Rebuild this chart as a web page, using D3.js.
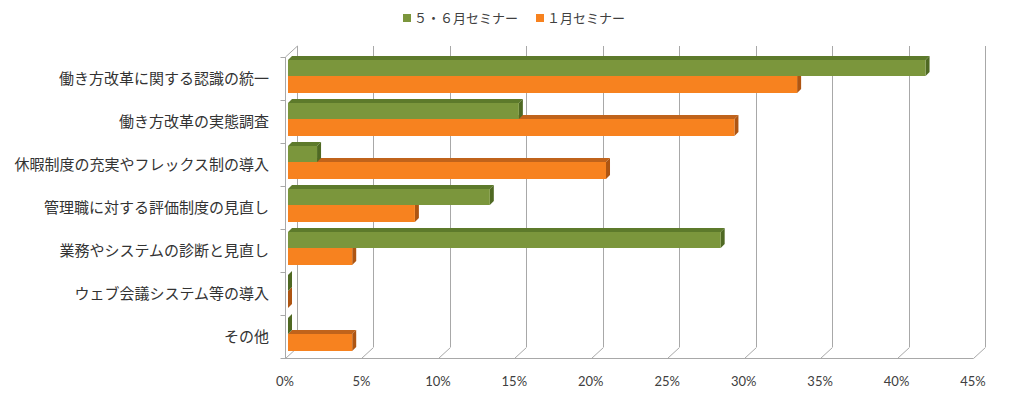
<!DOCTYPE html>
<meta charset="utf-8">
<html>
  <head>
    <title>seminar</title>
    <script src="https://d3js.org/d3.v7.min.js"></script>
    <style>
      body { margin: 0; background: #fff; }
    </style>
  </head>
  <body>
    <div id="chart"></div>
    <script type="text/javascript">
        /* data */
        var categories = ["働き方改革に関する認識の統一", "働き方改革の実態調査", "休暇制度の充実やフレックス制の導入",
                          "管理職に対する評価制度の見直し", "業務やシステムの診断と見直し", "ウェブ会議システム等の導入", "その他"];
        var series_names = ["５・６月セミナー", "１月セミナー"];
        var may_june = [0.417, 0.151, 0.019, 0.132, 0.283, 0, 0];
        var january = [0.333, 0.292, 0.208, 0.083, 0.042, 0, 0.042];
        var ticks = [0, 0.05, 0.10, 0.15, 0.20, 0.25, 0.30, 0.35, 0.40, 0.45];

        /* layout */
        var total_width = 1024, total_height = 397,
            depth = {dx: 12, dy: -11},
            bar_depth = 4,
            colors = [{front: "#7b963c", top: "#5d7a2b", side: "#4f6923"},
                      {front: "#f7821f", top: "#c0631b", side: "#ae5512"}],
            grid_color = "#a8a8a8",
            text_color = "#404040";

        var svg = d3.select("#chart").append("svg")
            .attr("width", total_width)
            .attr("height", total_height);

        var x = d3.scaleLinear().domain([0, 0.45]).range([285, 973]);
        var y = d3.scaleBand().domain(categories).range([57, 358]);

        var top_y = y.range()[0], floor_y = y.range()[1];

        /* back wall gridlines and floor */
        var grid = svg.append("g").attr("stroke", grid_color).attr("fill", "none").attr("stroke-width", 1);
        ticks.forEach(function(t){
            var fx = Math.round(x(t)) + 0.5;
            grid.append("line")
                .attr("x1", fx + depth.dx).attr("x2", fx + depth.dx)
                .attr("y1", top_y + depth.dy).attr("y2", floor_y + depth.dy);
            grid.append("line")
                .attr("x1", fx).attr("y1", floor_y + 0.5)
                .attr("x2", fx + depth.dx).attr("y2", floor_y + depth.dy + 0.5);
        });
        grid.append("line")
            .attr("x1", x(0)).attr("x2", x(0.45) + 0.5)
            .attr("y1", floor_y + 0.5).attr("y2", floor_y + 0.5);
        /* left wall */
        var lx = Math.round(x(0)) + 0.5;
        grid.append("line")
            .attr("x1", lx).attr("x2", lx)
            .attr("y1", top_y).attr("y2", floor_y);
        grid.append("line")
            .attr("x1", lx).attr("y1", top_y)
            .attr("x2", lx + depth.dx).attr("y2", top_y + depth.dy);
        categories.concat([null]).forEach(function(c, i){
            var ty = Math.round(top_y + i * y.bandwidth()) + 0.5;
            grid.append("line")
                .attr("x1", lx - 5).attr("x2", lx)
                .attr("y1", ty).attr("y2", ty);
        });

        /* bars */
        function bar(g, x0, x1, y0, h, col) {
            var d = bar_depth;
            g.append("path")
                .attr("d", "M" + x0 + "," + y0 + "L" + (x0 + d) + "," + (y0 - d) + "L" + (x1 + d) + "," + (y0 - d) + "L" + x1 + "," + y0 + "Z")
                .attr("fill", col.top);
            g.append("path")
                .attr("d", "M" + x1 + "," + y0 + "L" + (x1 + d) + "," + (y0 - d) + "L" + (x1 + d) + "," + (y0 + h - d) + "L" + x1 + "," + (y0 + h) + "Z")
                .attr("fill", col.side);
            g.append("rect")
                .attr("x", x0).attr("y", y0)
                .attr("width", x1 - x0).attr("height", h)
                .attr("fill", col.front);
        }

        var bars = svg.append("g");
        categories.forEach(function(c, i){
            var b = y(c);
            bar(bars, x(0) + 3, x(january[i]) + 3, b + 19, 17, colors[1]);
            bar(bars, x(0) + 3, x(may_june[i]) + 3, b + 3, 16, colors[0]);
        });

        /* category labels */
        svg.append("g").selectAll("text")
            .data(categories)
            .enter().append("text")
            .attr("x", 269)
            .attr("y", function(d){ return y(d) + y.bandwidth() / 2 + 1; })
            .attr("text-anchor", "end")
            .attr("dominant-baseline", "middle")
            .attr("font-family", "'Noto Sans CJK JP'")
            .attr("font-size", 15)
            .attr("fill", "#333")
            .text(function(d){ return d; });

        /* x tick labels */
        svg.append("g").selectAll("text")
            .data(ticks)
            .enter().append("text")
            .attr("x", function(d){ return x(d); })
            .attr("y", 386)
            .attr("text-anchor", "middle")
            .attr("font-family", "Lato")
            .attr("font-size", 13)
            .attr("fill", text_color)
            .text(function(d){ return Math.round(d * 100) + "%"; });

        /* legend */
        var legend_pos = [403, 536];
        var legend = svg.append("g");
        series_names.forEach(function(s, i){
            legend.append("rect")
                .attr("x", legend_pos[i]).attr("y", 14)
                .attr("width", 8).attr("height", 8)
                .attr("fill", colors[i].front);
            legend.append("text")
                .attr("x", legend_pos[i] + 11).attr("y", 23)
                .attr("font-family", "'Noto Sans CJK JP'")
                .attr("font-size", 13)
                .attr("fill", text_color)
                .text(s);
        });
    </script>
  </body>
</html>
